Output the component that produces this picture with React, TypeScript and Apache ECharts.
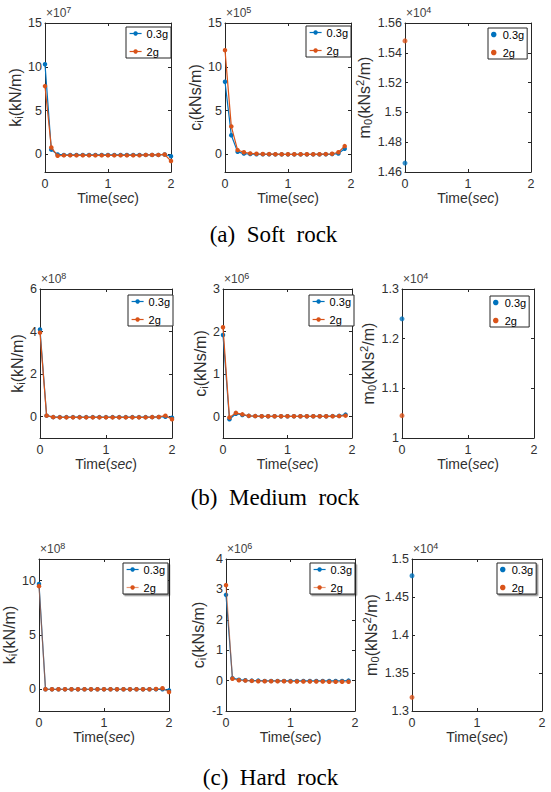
import React, { useEffect, useRef } from 'react';
import * as echarts from 'echarts';

// ---------- data ----------
const TIME_K = [0, 0.1, 0.2, 0.3, 0.4, 0.5, 0.6, 0.7, 0.8, 0.9, 1.0, 1.1, 1.2, 1.3, 1.4, 1.5, 1.6, 1.7, 1.8, 1.9, 2.0];
const TIME_C = [0, 0.1, 0.2, 0.3, 0.4, 0.5, 0.6, 0.7, 0.8, 0.9, 1.0, 1.1, 1.2, 1.3, 1.4, 1.5, 1.6, 1.7, 1.8, 1.9];
const TIME_M = [0];

// (a) Soft rock
const SOFT_K_03 = [10.3, 0.55, 0.0, -0.05, -0.05, -0.05, -0.05, -0.05, -0.05, -0.05, -0.05, -0.05, -0.05, -0.05, -0.05, -0.05, -0.05, -0.05, -0.05, 0.0, -0.2];
const SOFT_K_2 = [7.8, 0.8, -0.15, -0.1, -0.1, -0.1, -0.1, -0.1, -0.1, -0.1, -0.1, -0.1, -0.1, -0.1, -0.1, -0.1, -0.05, -0.05, -0.05, 0.0, -0.75];
const SOFT_C_03 = [8.3, 2.2, 0.3, 0.1, 0.05, 0.03, 0.02, 0.02, 0.01, 0.01, 0.01, 0.01, 0.01, 0.01, 0.01, 0.01, 0.02, 0.04, 0.1, 0.65];
const SOFT_C_2 = [11.9, 3.2, 0.5, 0.25, 0.12, 0.08, 0.05, 0.04, 0.03, 0.02, 0.02, 0.02, 0.02, 0.02, 0.02, 0.03, 0.04, 0.08, 0.25, 0.95];
const SOFT_M_03 = [1.466];
const SOFT_M_2 = [1.548];

// (b) Medium rock
const MEDIUM_K_03 = [4.1, 0.05, -0.02, -0.02, -0.02, -0.02, -0.02, -0.02, -0.02, -0.02, -0.02, -0.02, -0.02, -0.02, -0.02, -0.02, -0.02, -0.02, -0.01, 0.0, -0.05];
const MEDIUM_K_2 = [3.95, 0.05, -0.02, -0.03, -0.03, -0.03, -0.03, -0.03, -0.03, -0.03, -0.03, -0.03, -0.03, -0.03, -0.03, -0.03, -0.03, -0.02, -0.01, 0.05, -0.12];
const MEDIUM_C_03 = [1.92, -0.06, 0.07, 0.04, 0.02, 0.015, 0.01, 0.01, 0.01, 0.01, 0.01, 0.01, 0.01, 0.01, 0.01, 0.01, 0.01, 0.015, 0.02, 0.05];
const MEDIUM_C_2 = [2.1, -0.02, 0.09, 0.055, 0.02, 0.015, 0.01, 0.01, 0.01, 0.01, 0.01, 0.01, 0.01, 0.01, 0.01, 0.01, 0.01, 0.01, 0.015, 0.025];
const MEDIUM_M_03 = [1.24];
const MEDIUM_M_2 = [1.045];

// (c) Hard rock
const HARD_K_03 = [9.7, 0.0, 0.0, 0.0, 0.0, 0.0, 0.0, 0.0, 0.0, 0.0, 0.0, 0.0, 0.0, 0.0, 0.0, 0.0, 0.0, 0.0, 0.0, 0.0, -0.1];
const HARD_K_2 = [9.5, 0.0, 0.0, 0.0, 0.0, 0.0, 0.0, 0.0, 0.0, 0.0, 0.0, 0.0, 0.0, 0.0, 0.0, 0.0, 0.0, 0.0, 0.02, 0.1, -0.25];
const HARD_C_03 = [2.82, 0.08, 0.03, 0.01, 0.0, 0.0, -0.01, -0.01, -0.01, -0.01, -0.01, -0.01, -0.01, -0.01, -0.01, -0.01, -0.01, -0.01, -0.01, 0.0];
const HARD_C_2 = [3.14, 0.06, 0.01, 0.0, -0.01, -0.02, -0.02, -0.02, -0.02, -0.02, -0.03, -0.03, -0.03, -0.03, -0.03, -0.03, -0.04, -0.04, -0.04, -0.04];
const HARD_M_03 = [1.478];
const HARD_M_2 = [1.318];

// tick labels
const X_TICKS = [0, 1, 2];
const SOFT_K_TICKS = [0, 5, 10, 15];
const SOFT_C_TICKS = [0, 5, 10, 15];
const SOFT_M_TICKS = [1.46, 1.48, 1.5, 1.52, 1.54, 1.56];
const MEDIUM_K_TICKS = [0, 2, 4, 6];
const MEDIUM_C_TICKS = [0, 1, 2, 3];
const MEDIUM_M_TICKS = [1, 1.1, 1.2, 1.3];
const HARD_K_TICKS = [0, 5, 10];
const HARD_C_TICKS = [-1, 0, 1, 2, 3, 4];
const HARD_M_TICKS = [1.3, 1.35, 1.4, 1.45, 1.5];

const SERIES_NAMES = ['0.3g', '2g'];
const CAPTIONS = ['(a)  Soft  rock', '(b)  Medium  rock', '(c)  Hard  rock'];

// ---------- styling / layout ----------
const FONT = 'Liberation Sans, Arial, Helvetica, sans-serif';
const SERIF = 'Liberation Serif, Times New Roman, serif';
const AX = '#262626';
const TXT = '#303030';
const BLUE = '#0072BD';
const ORANGE = '#D95319';

const NAME_K = '{n|k}{s|i}{n|(kN/m)}';
const NAME_C = '{n|c}{s|i}{n|(kNs/m)}';
const NAME_M = '{n|m}{s|0}{n|(kNs}{p|2}{n|/m)}';

type Panel = {
  g: [number, number, number, number];
  ymin: number; ymax: number; ticks: number[];
  exp: string; yName: string; yGap: number;
  kind: 'line' | 'scatter';
  x: number[]; y03: number[]; y2: number[];
  leg: [number, number]; fade?: boolean; shadow?: boolean;
};

const PANELS: Panel[] = [
  { g: [45, 23, 126, 149], ymin: -2, ymax: 15, ticks: SOFT_K_TICKS, exp: '7', yName: NAME_K, yGap: 18, kind: 'line', x: TIME_K, y03: SOFT_K_03, y2: SOFT_K_2, leg: [126, 27] },
  { g: [225, 23, 126, 149], ymin: -2, ymax: 15, ticks: SOFT_C_TICKS, exp: '5', yName: NAME_C, yGap: 18, kind: 'line', x: TIME_C, y03: SOFT_C_03, y2: SOFT_C_2, leg: [306, 26] },
  { g: [405, 23, 126, 149], ymin: 1.46, ymax: 1.56, ticks: SOFT_M_TICKS, exp: '4', yName: NAME_M, yGap: 26, kind: 'scatter', x: TIME_M, y03: SOFT_M_03, y2: SOFT_M_2, leg: [488, 28] },
  { g: [40, 289, 132, 149], ymin: -1, ymax: 6, ticks: MEDIUM_K_TICKS, exp: '8', yName: NAME_K, yGap: 13, kind: 'line', x: TIME_K, y03: MEDIUM_K_03, y2: MEDIUM_K_2, leg: [128, 295] },
  { g: [223, 289, 129, 149], ymin: -0.5, ymax: 3, ticks: MEDIUM_C_TICKS, exp: '6', yName: NAME_C, yGap: 13, kind: 'line', x: TIME_C, y03: MEDIUM_C_03, y2: MEDIUM_C_2, leg: [309, 295] },
  { g: [402, 289, 132, 149], ymin: 1, ymax: 1.3, ticks: MEDIUM_M_TICKS, exp: '4', yName: NAME_M, yGap: 20, kind: 'scatter', x: TIME_M, y03: MEDIUM_M_03, y2: MEDIUM_M_2, leg: [490, 296] },
  { g: [39, 559, 130, 152], ymin: -2, ymax: 12, ticks: HARD_K_TICKS, exp: '8', yName: NAME_K, yGap: 15, kind: 'line', x: TIME_K, y03: HARD_K_03, y2: HARD_K_2, leg: [123, 563], fade: true, shadow: true },
  { g: [226, 559, 129, 152], ymin: -1, ymax: 4, ticks: HARD_C_TICKS, exp: '6', yName: NAME_C, yGap: 15, kind: 'line', x: TIME_C, y03: HARD_C_03, y2: HARD_C_2, leg: [310, 563], fade: true, shadow: true },
  { g: [412, 559, 130, 152], ymin: 1.3, ymax: 1.5, ticks: HARD_M_TICKS, exp: '4', yName: NAME_M, yGap: 28, kind: 'scatter', x: TIME_M, y03: HARD_M_03, y2: HARD_M_2, leg: [497, 563], shadow: true },
];

const CAPTION_POS: [number, number][] = [[273.5, 234], [275, 497], [270.5, 777]];

const XNAME_SIZE = 14;
const YNAME_SIZE = 16;
const TICK_SIZE = 12.5;

function makeRich(size: number) {
  return {
    n: { fontSize: size, fontFamily: FONT, fontWeight: 'normal', color: TXT },
    s: { fontSize: size * 0.7, fontFamily: FONT, fontWeight: 'normal', color: TXT, padding: [Math.round(size * 0.42), 0, 0, 0] },
    p: { fontSize: size * 0.7, fontFamily: FONT, fontWeight: 'normal', color: TXT, padding: [0, 0, Math.round(size * 0.55), 0] },
    i: { fontSize: size, fontFamily: FONT, fontWeight: 'normal', color: TXT, fontStyle: 'italic' },
  };
}

function zip(xs: number[], ys: number[]) {
  return xs.map((x, i) => [x, ys[i]]);
}

function buildOption() {
  const grid: any[] = [];
  const xAxis: any[] = [];
  const yAxis: any[] = [];
  const series: any[] = [];
  const legend: any[] = [];
  const graphic: any[] = [];

  PANELS.forEach((p, i) => {
    grid.push({ left: p.g[0], top: p.g[1], width: p.g[2], height: p.g[3], containLabel: false, show: false });
    const lineCommon = { show: true, onZero: false, lineStyle: { color: AX, width: 1 } };
    const tick = { show: true, inside: true, length: 3, lineStyle: { color: AX, width: 1 } };
    xAxis.push({
      type: 'value', gridIndex: i, min: 0, max: 2, interval: 1, position: 'bottom',
      axisLine: lineCommon,
      axisTick: { ...tick, customValues: X_TICKS },
      axisLabel: { show: true, customValues: X_TICKS, fontSize: TICK_SIZE, fontWeight: 'normal', color: TXT, fontFamily: FONT, margin: 5 },
      splitLine: { show: false },
      name: '{n|Time(}{i|sec}{n|)}', nameLocation: 'middle', nameGap: 19,
      nameTextStyle: { fontWeight: 'normal', fontSize: XNAME_SIZE, rich: makeRich(XNAME_SIZE) },
    });
    xAxis.push({
      type: 'value', gridIndex: i, min: 0, max: 2, interval: 1, position: 'top',
      axisLine: lineCommon,
      axisTick: { ...tick, customValues: X_TICKS },
      axisLabel: { show: false }, splitLine: { show: false },
    });
    yAxis.push({
      type: 'value', gridIndex: i, min: p.ymin, max: p.ymax, position: 'left',
      axisLine: lineCommon,
      axisTick: { ...tick, customValues: p.ticks },
      axisLabel: { show: true, customValues: p.ticks, fontSize: TICK_SIZE, fontWeight: 'normal', color: TXT, fontFamily: FONT, margin: 3 },
      splitLine: { show: false },
      name: p.yName, nameLocation: 'middle', nameRotate: 90, nameGap: p.yGap,
      nameTextStyle: { fontWeight: 'normal', fontSize: YNAME_SIZE, rich: makeRich(YNAME_SIZE) },
    });
    yAxis.push({
      type: 'value', gridIndex: i, min: p.ymin, max: p.ymax, position: 'right',
      axisLine: lineCommon,
      axisTick: { ...tick, customValues: p.ticks },
      axisLabel: { show: false }, splitLine: { show: false },
    });

    const ys = [p.y03, p.y2];
    const colors = [BLUE, ORANGE];
    ys.forEach((yv, k) => {
      if (p.kind === 'line') {
        series.push({
          type: 'line', name: SERIES_NAMES[k], xAxisIndex: 2 * i, yAxisIndex: 2 * i,
          data: zip(p.x, yv), symbol: 'circle', symbolSize: 4.5, showSymbol: true,
          lineStyle: { color: colors[k], width: 1.2, opacity: p.fade && k === 1 ? 0.6 : 1 },
          itemStyle: { color: colors[k] }, clip: false, z: 2 + k,
        });
      } else {
        series.push({
          type: 'scatter', name: SERIES_NAMES[k], xAxisIndex: 2 * i, yAxisIndex: 2 * i,
          data: zip(p.x, yv), symbol: 'circle', symbolSize: 5,
          itemStyle: { color: colors[k] }, clip: false, z: 2 + k,
        });
      }
    });

    const shadow = p.shadow ? { shadowColor: 'rgba(0,0,0,0.45)', shadowOffsetX: 1.5, shadowOffsetY: 1.5, shadowBlur: 1 } : {};
    legend.push({
      left: p.leg[0], top: p.leg[1], orient: 'vertical',
      data: [
        { name: SERIES_NAMES[0] },
        p.fade ? { name: SERIES_NAMES[1], lineStyle: { opacity: 0.6 } } : { name: SERIES_NAMES[1] },
      ],
      icon: p.kind === 'scatter' ? 'circle' : undefined,
      itemWidth: p.kind === 'scatter' ? 8 : 12, itemHeight: 5.5, itemGap: 7,
      padding: [1, 3, 1, 3],
      borderColor: AX, borderWidth: 1, borderRadius: 0, backgroundColor: '#fff',
      lineStyle: { width: 1.2 },
      textStyle: { fontSize: 11, fontWeight: 'normal', color: '#000', fontFamily: FONT, lineHeight: 11 },
      selectedMode: false,
      ...shadow,
    });

    graphic.push({
      type: 'text', x: p.g[0] + 1, y: p.g[1] - 2, z: 10,
      style: {
        text: '{a|×10}{b|' + p.exp + '}',
        align: 'left', verticalAlign: 'bottom',
        fill: AX,
        rich: {
          a: { fontSize: 12, fontFamily: FONT, fill: '#444' },
          b: { fontSize: 9, fontFamily: FONT, fill: '#333', padding: [0, 0, 7, 0] },
        },
      },
    });
  });

  CAPTIONS.forEach((c, i) => {
    graphic.push({
      type: 'text', x: CAPTION_POS[i][0], y: CAPTION_POS[i][1], z: 10,
      style: {
        text: c, fill: '#000', fontSize: 23, fontFamily: SERIF,
        align: 'center', verticalAlign: 'middle',
      },
    });
  });

  return {
    animation: false,
    backgroundColor: '#ffffff',
    textStyle: { fontFamily: FONT, fontWeight: 'normal' },
    grid, xAxis, yAxis, series, legend, graphic,
  };
}

export default function App() {
  const ref = useRef<HTMLDivElement>(null);
  useEffect(() => {
    if (!ref.current) return;
    const chart = echarts.init(ref.current, null, { renderer: 'svg' });
    chart.setOption(buildOption() as any);
    return () => chart.dispose();
  }, []);
  return (
    <div
      ref={ref}
      style={{ position: 'fixed', left: 0, top: 0, width: 551, height: 792, background: '#fff' }}
    />
  );
}
